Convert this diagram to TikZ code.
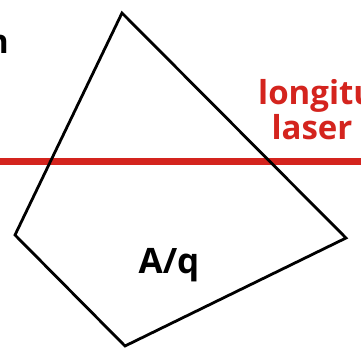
\documentclass[tikz,border=0pt]{standalone}
\usepackage{fontspec}
\setmainfont{Open Sans}
\definecolor{laserred}{RGB}{212,36,30}
\begin{document}
\begin{tikzpicture}[x=1pt,y=1pt,
  edge/.style={draw=black,line width=2.8pt,line join=miter},
  beam/.style={draw=laserred,line width=7pt},
  lbl/.style={inner sep=0pt,font=\bfseries\fontsize{33}{35}\selectfont}]
\useasboundingbox (0,0) rectangle (361,350);
\clip (0,0) rectangle (361,350);
\fill[white] (0,0) rectangle (361,350);
\coordinate (L) at (0,188);
\coordinate (R) at (361,188);
\draw[beam] (L) -- (R);
\coordinate (top) at (122,337);
\coordinate (rt) at (346,112);
\coordinate (bot) at (125,4);
\coordinate (lf) at (15,115);
\draw[edge] (top) -- (rt) -- (bot) -- (lf) -- cycle;
\node[lbl,anchor=base east] (n) at (9,296) {n};
\node[lbl,anchor=base west,text=laserred] (lon) at (258,245) {longitu};
\node[lbl,anchor=base,text=laserred] (las) at (312,210) {laser};
\node[lbl,anchor=base,font=\bfseries\fontsize{35}{37}\selectfont] (aq) at (169,76) {A/q};
\end{tikzpicture}
\end{document}
